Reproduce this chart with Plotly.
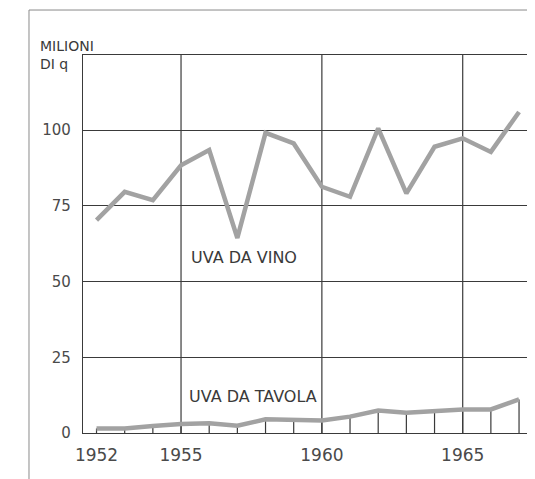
"""Produzione di uva da vino e da tavola in Italia, 1952-1967."""

import plotly.graph_objects as go

YEARS = list(range(1952, 1968))
UVA_DA_VINO = [70.3, 79.6, 76.9, 88.4, 93.4, 64.4, 99.1, 95.6,
               81.3, 78.0, 100.6, 79.1, 94.5, 97.3, 92.8, 106.0]
UVA_DA_TAVOLA = [1.5, 1.5, 2.3, 3.0, 3.2, 2.4, 4.5, 4.3,
                 4.1, 5.4, 7.4, 6.7, 7.4, 7.8, 7.8, 11.1]

Y_TICKS = [0, 25, 50, 75, 100]
X_TICKS = [1952, 1955, 1960, 1965]
GRID_YEARS = [1955, 1960, 1965]

INK = "#3a3a3a"
LABEL = "#4a4a4a"
LINE_GREY = "#a2a2a2"
FONT = "DejaVu Sans"

fig = go.Figure()

# uva da tavola: linea con le piccole verticali fino allo zero
fig.add_trace(
    go.Scatter(
        x=YEARS,
        y=UVA_DA_TAVOLA,
        mode="lines",
        line={"width": 4.5, "color": LINE_GREY},
        error_y={
            "type": "data",
            "symmetric": False,
            "array": [0] * len(YEARS),
            "arrayminus": UVA_DA_TAVOLA,
            "width": 0,
            "thickness": 1.2,
            "color": INK,
        },
        showlegend=False,
        hoverinfo="x+y",
    )
)
fig.add_trace(
    go.Scatter(
        x=YEARS,
        y=UVA_DA_VINO,
        mode="lines",
        line={"width": 4.5, "color": LINE_GREY},
        showlegend=False,
        hoverinfo="x+y",
    )
)

for year in GRID_YEARS:
    fig.add_shape(
        type="line", xref="x", yref="paper", x0=year, x1=year, y0=0, y1=1,
        line={"color": INK, "width": 1.2}, layer="below",
    )

# cornice esterna della figura (continua oltre i bordi destro e inferiore)
fig.add_shape(
    type="rect", xref="paper", yref="paper",
    x0=-0.1203, x1=1.1, y0=-0.2, y1=1.119,
    line={"color": "#8a8a8a", "width": 1}, layer="below",
)

fig.add_annotation(
    x=1957.23, y=58, text="UVA DA VINO", showarrow=False,
    font={"family": FONT, "size": 16, "color": INK},
)
fig.add_annotation(
    x=1957.54, y=12, text="UVA DA TAVOLA", showarrow=False,
    font={"family": FONT, "size": 16, "color": INK},
)
fig.add_annotation(
    xref="paper", yref="paper", x=-0.101, y=1.05,
    xanchor="left", yanchor="top", align="left",
    text="MILIONI<br>DI q", showarrow=False,
    font={"family": FONT, "size": 14, "color": INK},
)

# la pagina ha 8 px di margine: la figura è più piccola della finestra
fig.update_layout(
    width=527,
    height=471,
    margin={"l": 75, "r": 3, "t": 47, "b": 46},
    paper_bgcolor="white",
    plot_bgcolor="white",
    font={"family": FONT, "size": 14, "color": LABEL},
    xaxis={
        "range": [1951.52, 1967.46],
        "tickvals": X_TICKS,
        "showgrid": False,
        "zeroline": False,
        "showline": True,
        "mirror": True,
        "linecolor": INK,
        "linewidth": 1.2,
        "ticks": "",
        "ticklabelstandoff": 6,
        "tickfont": {"size": 17},
    },
    yaxis={
        "range": [0, 124.8],
        "tickvals": Y_TICKS,
        "showgrid": True,
        "gridcolor": INK,
        "gridwidth": 1.2,
        "zeroline": False,
        "showline": True,
        "mirror": True,
        "linecolor": INK,
        "linewidth": 1.2,
        "ticks": "",
        "ticklabelstandoff": 8,
        "tickfont": {"size": 15},
    },
)

fig.write_html("out.html")
